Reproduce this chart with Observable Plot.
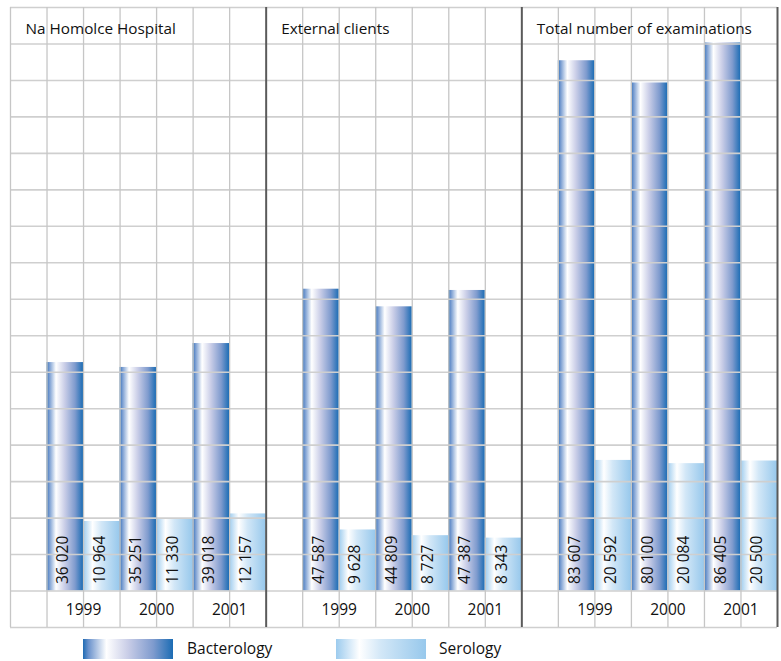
<!DOCTYPE html>
<html>
<head>
<meta charset="utf-8">
<script src="https://cdn.jsdelivr.net/npm/d3@7"></script>
<script src="https://cdn.jsdelivr.net/npm/@observablehq/plot@0.6"></script>
<style>
  html, body { margin: 0; padding: 0; background: #fff; }
  body { width: 781px; height: 661px; overflow: hidden; font-family: "Open Sans", sans-serif; }
  #legend { position: relative; height: 29px; }
  .sw { position: absolute; top: 7px; width: 90px; height: 20px; }
  .lt { position: absolute; top: 5px; font-size: 15.5px; color: #111; line-height: 22px; }
</style>
</head>
<body>
<div id="chart"></div>
<div id="legend">
  <div class="sw" style="left:83px;background:linear-gradient(to right,#1f6bb3 0%,#6a92cc 6%,#ffffff 26%,#c9cde7 50%,#7f9bce 78%,#1b6cb4 100%)"></div>
  <div class="lt" style="left:187px">Bacterology</div>
  <div class="sw" style="left:336px;background:linear-gradient(to right,#9ccbee 0%,#ffffff 26%,#d2e7f7 50%,#97c8ec 100%)"></div>
  <div class="lt" style="left:439px">Serology</div>
</div>
<script>
// ---- data ----
const panels = ["Na Homolce Hospital", "External clients", "Total number of examinations"];
const years = ["1999", "2000", "2001"];
const seriesNames = ["Bacterology", "Serology"];
const bacterology = [
  [36020, 35251, 39018],
  [47587, 44809, 47387],
  [83607, 80100, 86405]
];
const serology = [
  [10964, 11330, 12157],
  [9628, 8727, 8343],
  [20592, 20084, 20500]
];
const yMax = 92000;

// ---- build table ----
const fmt = d3.formatLocale({thousands: "\u00a0", grouping: [3], decimal: "."}).format(",d");
const colsPerPanel = 7;
const rows = [];
panels.forEach((p, pi) => {
  years.forEach((yr, yi) => {
    [bacterology, serology].forEach((arr, si) => {
      const col = pi * colsPerPanel + 1 + yi * 2 + si;
      rows.push({panel: p, year: yr, series: seriesNames[si], value: arr[pi][yi], x1: col, x2: col + 1, xc: col + 0.5});
    });
  });
});
const yearLabels = [];
panels.forEach((p, pi) => years.forEach((yr, yi) => yearLabels.push({year: yr, x: pi * colsPerPanel + 2 + yi * 2})));
const titles = panels.map((p, pi) => ({title: p, x: pi * colsPerPanel}));

const rowH = yMax / 16;
const nCols = panels.length * colsPerPanel;
const hLines = d3.range(-1, 17).map(k => k * rowH);
const vLines = d3.range(0, nCols + 1).filter(c => c % colsPerPanel !== 0 || c === 0);
const seps = d3.range(colsPerPanel, nCols + 1, colsPerPanel);

const chart = Plot.plot({
  width: 781,
  height: 632,
  marginLeft: 10,
  marginRight: 4,
  marginTop: 7,
  marginBottom: 5,
  style: {fontFamily: "'Open Sans', sans-serif", background: "#fff", overflow: "visible"},
  x: {domain: [0, nCols], axis: null},
  y: {domain: [-rowH, 16 * rowH], axis: null},
  marks: [
    Plot.rect(rows, {
      x1: "x1", x2: "x2", y1: 0, y2: "value",
      fill: d => d.series === "Bacterology" ? "url(#gradB)" : "url(#gradS)"
    }),
    Plot.ruleY(hLines, {stroke: "#cfcfcf", strokeWidth: 1.6}),
    Plot.ruleX(vLines, {y1: -rowH, y2: 16 * rowH, stroke: "#c6c6c6", strokeWidth: 1.3}),
    Plot.ruleX(seps, {y1: -rowH, y2: 16 * rowH, stroke: "#5a5a5a", strokeWidth: 2}),
    Plot.text(rows, {
      x: "xc", y: 0, text: d => fmt(d.value), rotate: -90, textAnchor: "start",
      dy: -7, dx: -2, fontSize: 15.5, fill: "#111"
    }),
    Plot.text(yearLabels, {x: "x", y: -rowH / 2, text: "year", fontSize: 15.5, fill: "#111", dy: 1}),
    Plot.text(titles, {x: "x", y: 16 * rowH - rowH / 2, text: "title", textAnchor: "start", dx: 15, dy: 3, fontSize: 15.3, fill: "#111"})
  ]
});

// gradients
const svg = d3.select(chart);
const defs = svg.insert("defs", ":first-child");
const gB = defs.append("linearGradient").attr("id", "gradB").attr("x1", 0).attr("x2", 1).attr("y1", 0).attr("y2", 0);
[[0, "#1f6bb3"], [0.06, "#6a92cc"], [0.26, "#ffffff"], [0.5, "#c9cde7"], [0.78, "#7f9bce"], [1, "#1b6cb4"]]
  .forEach(([o, c]) => gB.append("stop").attr("offset", o).attr("stop-color", c));
const gS = defs.append("linearGradient").attr("id", "gradS").attr("x1", 0).attr("x2", 1).attr("y1", 0).attr("y2", 0);
[[0, "#9ccbee"], [0.26, "#ffffff"], [0.5, "#d2e7f7"], [1, "#97c8ec"]]
  .forEach(([o, c]) => gS.append("stop").attr("offset", o).attr("stop-color", c));

document.getElementById("chart").appendChild(chart);
</script>
</body>
</html>
